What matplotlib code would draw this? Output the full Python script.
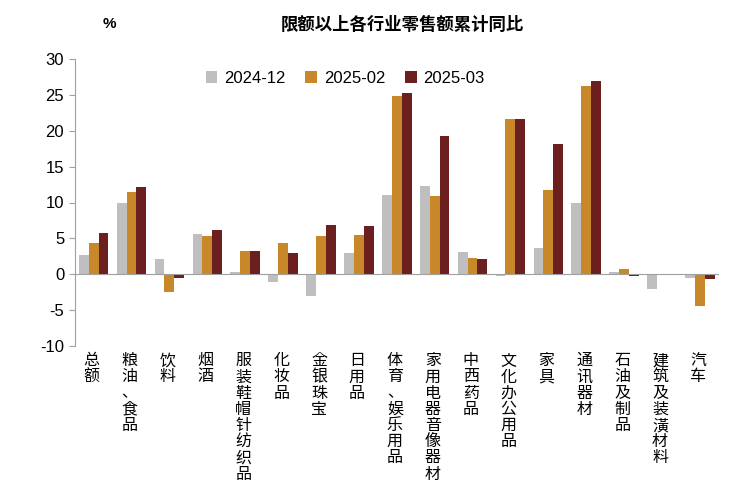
import matplotlib
matplotlib.use('Agg')
import matplotlib.pyplot as plt
import numpy as np

plt.rcParams['font.family'] = ['Liberation Sans', 'Noto Sans CJK JP', 'Noto Sans CJK SC', 'DejaVu Sans']
plt.rcParams['axes.unicode_minus'] = False

categories = ['总额', '粮油、食品', '饮料', '烟酒', '服装鞋帽针纺织品', '化妆品', '金银珠宝',
              '日用品', '体育、娱乐用品', '家用电器音像器材', '中西药品', '文化办公用品',
              '家具', '通讯器材', '石油及制品', '建筑及装潢材料', '汽车']
s_2412 = [2.7, 9.9, 2.1, 5.6, 0.3, -1.1, -3.1, 2.9, 11.0, 12.3, 3.1, -0.3, 3.6, 9.9, 0.3, -2.0, -0.5]
s_2502 = [4.3, 11.4, -2.5, 5.4, 3.2, 4.3, 5.3, 5.5, 24.9, 10.9, 2.3, 21.7, 11.7, 26.2, 0.8, 0.0, -4.4]
s_2503 = [5.7, 12.1, -0.5, 6.2, 3.3, 3.0, 6.8, 6.7, 25.3, 19.3, 2.1, 21.7, 18.1, 26.9, -0.2, 0.0, -0.7]

fig = plt.figure(figsize=(7.32, 5.0), dpi=100)
ax = fig.add_axes([0.102, 0.308, 0.88, 0.574])

x = np.arange(len(categories))
w = 0.26
ax.bar(x - w, s_2412, w, color='#BFBFBF', label='2024-12')
ax.bar(x, s_2502, w, color='#C8882A', label='2025-02')
ax.bar(x + w, s_2503, w, color='#6B1F1F', label='2025-03')

ax.set_ylim(-10, 30)
ax.set_yticks(range(-10, 31, 5))
ax.set_xlim(-0.5, len(categories) - 0.5)
ax.axhline(0, color='#A0A0A0', lw=0.8)
for s in ['top', 'right', 'bottom']:
    ax.spines[s].set_visible(False)
ax.spines['left'].set_color('#A0A0A0')
ax.tick_params(axis='y', labelsize=12, length=4, color='#A0A0A0')
ax.set_xticks([])

for i, c in enumerate(categories):
    ax.text(i - 0.05, -11.0, '\n'.join(c), ha='center', va='top', fontsize=11.5, linespacing=1.1)

ax.legend(loc='upper center', bbox_to_anchor=(0.42, 1.01), ncol=3, frameon=False,
          fontsize=12, handlelength=0.7, handleheight=0.7, columnspacing=1.2, handletextpad=0.4)
fig.text(0.55, 0.94, '限额以上各行业零售额累计同比', ha='center', fontsize=12.5, fontweight='bold')
fig.text(0.15, 0.945, '%', ha='center', fontsize=11, fontweight='bold')

fig.savefig('out.png', dpi=100)
